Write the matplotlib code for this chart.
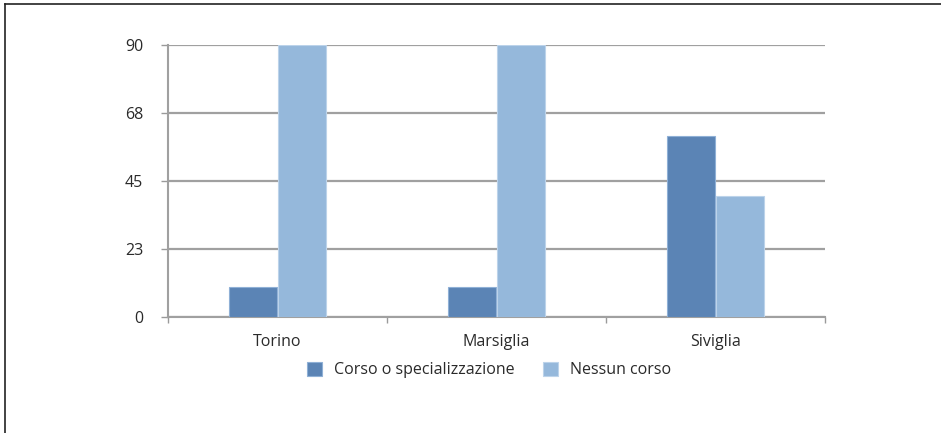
import matplotlib.pyplot as plt
import numpy as np
from matplotlib.lines import Line2D

cities = ["Torino", "Marsiglia", "Siviglia"]
corso = [10, 10, 60]
nessun = [90, 90, 40]
series_names = ["Corso o specializzazione", "Nessun corso"]
yticks = [0, 22.5, 45, 67.5, 90]
ytick_labels = ["0", "23", "45", "68", "90"]

plt.rcParams['font.family'] = ['Open Sans', 'DejaVu Sans']

fig = plt.figure(figsize=(9.41, 4.33), dpi=100)
ax = fig.add_axes([168/941, 1-317/433, (825-168)/941, (317-45)/433])

x = np.arange(len(cities))
w = 0.218
ax.bar(x - w/2 - 0.004, corso, w, color='#5b84b5', edgecolor='#8fb0d6', linewidth=0.8,
       label=series_names[0], zorder=3)
ax.bar(x + w/2 + 0.004, nessun, w, color='#95b8db', edgecolor='#bcd3ea', linewidth=0.8,
       label=series_names[1], zorder=3)

ax.set_xlim(-0.5, 2.5)
ax.set_ylim(0, 90)
ax.set_yticks(yticks)
ax.set_yticklabels(ytick_labels)
ax.set_xticks(x)
ax.set_xticklabels(cities)
ax.set_xticks([-0.5, 0.5, 1.5, 2.5], minor=True)
ax.tick_params(axis='x', which='major', length=0, pad=12, labelsize=11.5, labelcolor='#2a2a2a')
ax.tick_params(axis='x', which='minor', length=4, width=1, color='#9a9a9a')
ax.tick_params(axis='y', length=5, width=1, color='#9a9a9a', pad=13, labelsize=11.5, labelcolor='#2a2a2a')

ax.grid(axis='y', color='#a0a0a0', linewidth=1.6, zorder=0)
ax.set_axisbelow(True)
for s in ['top', 'right']:
    ax.spines[s].set_visible(False)
ax.spines['left'].set_color('#a0a0a0')
ax.spines['left'].set_linewidth(1.5)
ax.spines['bottom'].set_color('#a0a0a0')
ax.spines['bottom'].set_linewidth(1.5)

fig.legend(loc='center', bbox_to_anchor=(489/941, 1-370/433), ncol=2, frameon=False,
           fontsize=11.5, handlelength=0.95, handleheight=0.95, handletextpad=0.75,
           columnspacing=1.8, labelcolor='#2a2a2a')

# border of the picture, top and left only
fig.add_artist(Line2D([5/941, 1], [1-4/433, 1-4/433], color='#222222', linewidth=1.2,
                      transform=fig.transFigure))
fig.add_artist(Line2D([5/941, 5/941], [0, 1-4/433], color='#222222', linewidth=1.2,
                      transform=fig.transFigure))

fig.savefig("out.png", dpi=100)
